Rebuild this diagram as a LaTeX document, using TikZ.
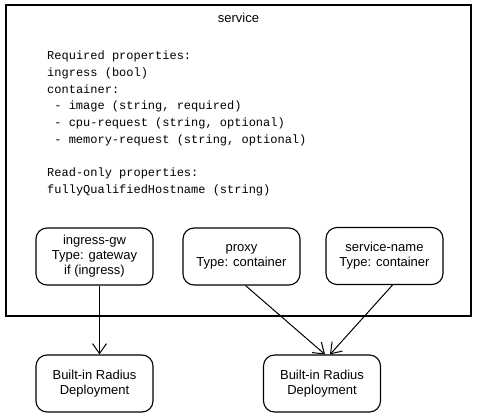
\documentclass[tikz,border=0pt]{standalone}
\usepackage{fontspec}
\setmainfont{Liberation Sans}
\newfontfamily\codefont{Liberation Mono}
\usepackage{tikz}
\usetikzlibrary{
  arrows.meta,
  positioning,
}

\begin{document}
\begin{tikzpicture}[
  x=1pt, y=-1pt,
  font=\fontsize{13}{15}\selectfont,
  every node/.style={align=center},
  box/.style={draw, line width=1.1pt, rounded corners=11pt,
    minimum width=117pt, minimum height=57pt, inner sep=2pt},
  arrow/.style={-{Straight Barb[length=10pt,width=14pt]}, line width=1pt},
]

\useasboundingbox (0,0) rectangle (477,419);

%% Service boundary
\node[draw, line width=1.1pt, minimum width=465pt, minimum height=311pt,
  inner sep=0pt] (service) at (238.5,160.5) {};
\node[below=5pt of service.north] (title) {service};

\node[anchor=north west, inner sep=0pt, align=left,
  font=\codefont\fontsize{12}{16.7}\selectfont] (props) at (47,51)
  {Required properties:\\
   ingress (bool)\\
   container:\\
   \hspace*{0.6em}- image (string, required)\\
   \hspace*{0.6em}- cpu-request (string, optional)\\
   \hspace*{0.6em}- memory-request (string, optional)\\[16.7pt]
   Read-only properties:\\
   fullyQualifiedHostname (string)};

%% Resources
\node[box] (gw) at (94.5,256.5) {ingress-gw\\ Type: gateway\\ if (ingress)};
\node[box] (proxy) at (241.5,256.5) {proxy\\ Type: container};
\node[box] (svc) at (384.5,256) {service-name\\ Type: container};

%% Deployments
\node[box] (dep1) at (94.5,383.5) {Built-in Radius\\ Deployment};
\node[box] (dep2) at (322,383.5) {Built-in Radius\\ Deployment};

\draw[arrow] ([xshift=5pt]gw.south) -- ([xshift=5pt]dep1.north);
\draw[arrow] ([xshift=4pt]proxy.south) -- ([xshift=3pt]dep2.north);
\draw[arrow] ([xshift=8pt]svc.south) -- ([xshift=8pt]dep2.north);

\end{tikzpicture}
\end{document}
